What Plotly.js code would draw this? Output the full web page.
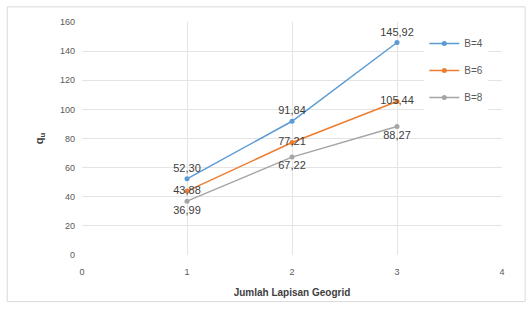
<!DOCTYPE html>
<html><head><meta charset="utf-8">
<script src="https://cdn.plot.ly/plotly-3.0.1.min.js"></script>
<style>body{margin:0;padding:0;background:#fff}#c{width:530px;height:317px}</style>
</head><body><div id="c"></div>
<script>
const layers = [1, 2, 3];
const seriesNames = ["B=4", "B=6", "B=8"];
const b4 = [52.30, 91.84, 145.92];
const b6 = [43.88, 77.21, 105.44];
const b8 = [36.99, 67.22, 88.27];
const xTicks = [0, 1, 2, 3, 4];
const yTicks = [0, 20, 40, 60, 80, 100, 120, 140, 160];

const colors = ["#5B9BD5", "#ED7D31", "#A5A5A5"];
const positions = ["top center", "middle center", "bottom center"];
const fmt = v => v.toFixed(2).replace(".", ",");
const all = [b4, b6, b8];
const traces = all.map((ys, i) => ({
  x: layers, y: ys, name: seriesNames[i], type: "scatter",
  mode: "lines+markers+text",
  text: ys.map(fmt), textposition: positions[i],
  textfont: {family: "Liberation Sans, Arial", size: 11, color: "#404040"},
  line: {color: colors[i], width: 1.5},
  marker: {color: colors[i], size: 5},
  legendgroup: "g" + i, cliponaxis: false
}));

const layout = {
  width: 530, height: 317,
  margin: {l: 82, r: 28, t: 22, b: 62},
  paper_bgcolor: "#fff", plot_bgcolor: "#fff",
  font: {family: "Liberation Sans, Arial", color: "#595959"},
  showlegend: true,
  legend: {x: 0.815, y: 0.97, xanchor: "left", yanchor: "top",
    bgcolor: "rgba(255,255,255,1)", font: {size: 10, color: "#595959"},
    traceorder: "grouped", tracegroupgap: 8, itemwidth: 30},
  xaxis: {range: [0, 4], tickvals: xTicks, ticktext: xTicks.map(String),
    showgrid: true, gridcolor: "#E4E4E4", zeroline: false, showline: false,
    tickfont: {size: 9, color: "#595959"}, ticks: "", ticklabelstandoff: 10,
    title: {text: "<b>Jumlah Lapisan Geogrid</b>", font: {size: 10, color: "#404040"}, standoff: 12}},
  yaxis: {range: [0, 160], tickvals: yTicks, ticktext: yTicks.map(String),
    showgrid: true, gridcolor: "#E4E4E4", zeroline: false, showline: false,
    tickfont: {size: 9, color: "#595959"}, ticks: "", ticklabelstandoff: 6,
    title: {text: "<b>q<sub>u</sub></b>", font: {size: 11, color: "#404040"}, standoff: 14}},
  shapes: [{type: "rect", xref: "paper", yref: "paper", x0: -0.178, x1: 1.055, y0: -0.2, y1: 1.065,
    line: {color: "#D9D9D9", width: 1}}]
};
Plotly.newPlot("c", traces, layout, {staticPlot: true});
</script></body></html>
